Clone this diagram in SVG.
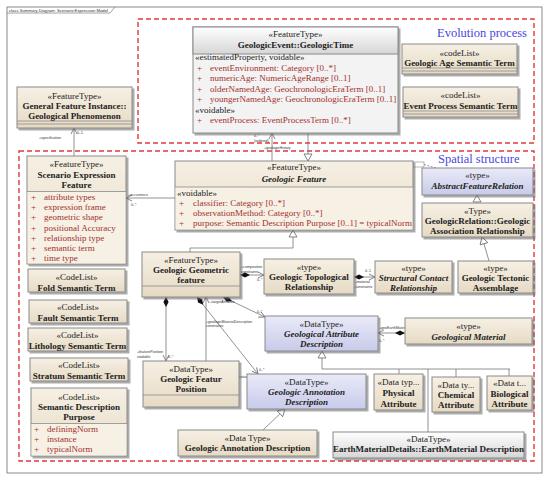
<svg xmlns="http://www.w3.org/2000/svg" width="550" height="484" viewBox="0 0 550 484">
<defs>
<linearGradient id="bg" x1="0" y1="0" x2="0" y2="1"><stop offset="0" stop-color="#f6f0e4"/><stop offset="1" stop-color="#e6dac4"/></linearGradient>
<linearGradient id="lv" x1="0" y1="0" x2="0" y2="1"><stop offset="0" stop-color="#e9eaf8"/><stop offset="1" stop-color="#c8cbea"/></linearGradient>
<linearGradient id="gy" x1="0" y1="0" x2="0" y2="1"><stop offset="0" stop-color="#ffffff"/><stop offset="1" stop-color="#d6d6d6"/></linearGradient>
<filter id="ds" x="-10%" y="-10%" width="130%" height="130%"><feDropShadow dx="2" dy="2" stdDeviation="0.7" flood-color="#666" flood-opacity="0.55"/></filter>
<marker id="arr" markerUnits="userSpaceOnUse" markerWidth="10" markerHeight="10" refX="0" refY="0" orient="auto" overflow="visible"><path d="M-6,-3 L0,0 L-6,3" fill="none" stroke="#666" stroke-width="0.8"/></marker>
<marker id="tri" markerUnits="userSpaceOnUse" markerWidth="10" markerHeight="10" refX="0" refY="0" orient="auto" overflow="visible"><path d="M-7,-4 L0,0 L-7,4 Z" fill="#fff" stroke="#666" stroke-width="0.8"/></marker>
<marker id="dia" markerUnits="userSpaceOnUse" markerWidth="12" markerHeight="12" refX="0" refY="0" orient="auto" overflow="visible"><path d="M0,0 L5,-2.6 L10,0 L5,2.6 Z" fill="#111"/></marker>
</defs>
<style>
.b{fill:url(#bg);stroke:#8a8a8a;stroke-width:1;filter:url(#ds)}
.l{fill:url(#lv);stroke:#8a8a8a;stroke-width:1;filter:url(#ds)}
.g{fill:url(#gy);stroke:#8a8a8a;stroke-width:1;filter:url(#ds)}
.sep{stroke:#8a8a8a;stroke-width:0.8;fill:none}
.cmp{fill:#f6f0e5}
text{font-family:"Liberation Serif",serif}
.s{font-size:9px;text-anchor:middle;fill:#222}
.n{font-size:9px;text-anchor:middle;font-weight:bold;fill:#222}
.ni{font-size:9px;text-anchor:middle;font-weight:bold;font-style:italic;fill:#222}
.a{font-size:9px;fill:#a3302e}
.k{font-size:9px;fill:#222}
.lb{font-family:"Liberation Sans",sans-serif;font-size:3.6px;fill:#333}
.red{fill:none;stroke:#e2393b;stroke-width:1.4;stroke-dasharray:5 3}
.ln{fill:none;stroke:#777;stroke-width:0.8}
.ttl{font-size:12.5px;fill:#4a46e0}
</style>
<g id="frame">
<rect x="7" y="7" width="535" height="466" fill="#fff" stroke="#8a8a8a" stroke-width="1"/>
<path d="M7,13 H110 L115,7" fill="none" stroke="#8a8a8a" stroke-width="0.8"/>
<text x="9" y="11.6" style="font-family:'Liberation Sans',sans-serif;font-size:4.2px;fill:#333">class Summary Diagram: Scenario Expression Model</text>
</g>
<g id="regions">
<rect class="red" x="138" y="19" width="396" height="124"/>
<rect class="red" x="19" y="151" width="515" height="310"/>
<text class="ttl" x="437" y="37">Evolution process</text>
<text class="ttl" x="438" y="163">Spatial structure</text>
</g>
<g id="connectors">
<path class="ln" d="M74,156 V128" marker-end="url(#arr)"/>
<path class="ln" d="M272,161 V133" marker-end="url(#arr)"/>
<path class="ln" d="M308,133 V161" marker-end="url(#tri)"/>
<path class="ln" d="M175,198 H126" marker-end="url(#arr)"/>
<path class="ln" d="M424,164.5 L436,168" stroke-dasharray="2 1.5"/>
<rect x="413" y="162" width="11" height="5" fill="#fff" stroke="#888" stroke-width="0.6"/>
<path class="ln" d="M477,203 V195" marker-end="url(#tri)"/>
<path class="ln" d="M489,261 L482,237" marker-end="url(#tri)"/>
<path class="ln" d="M190,252 V248 H293 V230" marker-end="url(#tri)"/>
<path class="ln" d="M240,275 H264" marker-start="url(#dia)" marker-end="url(#arr)"/>
<path class="ln" d="M354,277 H375" marker-start="url(#dia)" marker-end="url(#arr)"/>
<path class="ln" d="M223,297 L265,317" marker-start="url(#dia)" marker-end="url(#arr)"/>
<path class="ln" d="M166,297 V361" marker-start="url(#dia)" marker-end="url(#arr)"/>
<path class="ln" d="M206,361 V297" marker-end="url(#arr)"/>
<path class="ln" d="M197,297 L258,374" marker-start="url(#dia)" marker-end="url(#arr)"/>
<path class="ln" d="M405,333 H378" marker-start="url(#dia)" marker-end="url(#arr)"/>
<path class="ln" d="M263,430 L285,409" marker-end="url(#tri)"/>
<path class="ln" d="M322,369 V351" marker-end="url(#tri)"/>
<path class="ln" d="M322,369 H510 M399,369 V374 M428,369 V432 M456,369 V377 M509,369 V376"/>
<text class="lb" x="39" y="139">+specification</text>
<text class="lb" x="77" y="134">0..1</text>
<text class="lb" x="254" y="137">0..*</text>
<text class="lb" x="254" y="142">{ordered}</text>
<text class="lb" x="264" y="148.5">+geologicHistory</text>
<text class="lb" x="208" y="164.5">+relatedFeature 0..*</text>
<text class="lb" x="128" y="196">+occurrence</text>
<text class="lb" x="131" y="206">0..*</text>
<text class="lb" x="241" y="268">+composition</text>
<text class="lb" x="241" y="273">constraints</text>
<text class="lb" x="257" y="281">0..*</text>
<text class="lb" x="365" y="272">0..1</text>
<text class="lb" x="355" y="283">+material</text>
<text class="lb" x="355" y="287.5">constraints</text>
<text class="lb" x="210" y="302.5">+targetAttribute</text>
<text class="lb" x="257" y="312.5">0..*</text>
<text class="lb" x="206" y="322.5">+geologicMaterialDescription</text>
<text class="lb" x="206" y="327">constraints</text>
<text class="lb" x="137" y="353">+featurePosition</text>
<text class="lb" x="137" y="357.5">voidable</text>
<text class="lb" x="168" y="358">0..*</text>
<text class="lb" x="221" y="378">+geologicFeatureDescription</text>
<text class="lb" x="221" y="382.5">constraints</text>
<text class="lb" x="259" y="371">0..*</text>
<text class="lb" x="379" y="328.5">+geoEarthMaterialDescription</text>
<text class="lb" x="379" y="342">0..*</text>
</g>
<g id="geologicTime">
<rect x="193" y="27" width="205" height="106" fill="#f3f3f3" stroke="#8a8a8a" filter="url(#ds)"/>
<rect x="193" y="27" width="205" height="27" fill="url(#gy)" stroke="#8a8a8a"/>
<text class="s" x="295.5" y="37">«FeatureType»</text>
<text class="n" x="295.5" y="47.5">GeologicEvent::GeologicTime</text>
<text class="k" x="195" y="60">«estimatedProperty, voidable»</text>
<text class="a" x="197" y="70.5">+</text><text class="a" x="210" y="70.5">eventEnvironment: Category [0..*]</text>
<text class="a" x="197" y="81">+</text><text class="a" x="210" y="81">numericAge: NumericAgeRange [0..1]</text>
<text class="a" x="197" y="91.5">+</text><text class="a" x="210" y="91.5">olderNamedAge: GeochronologicEraTerm [0..1]</text>
<text class="a" x="197" y="102">+</text><text class="a" x="210" y="102">youngerNamedAge: GeochronologicEraTerm [0..1]</text>
<text class="k" x="195" y="112.5">«voidable»</text>
<text class="a" x="197" y="123">+</text><text class="a" x="210" y="123">eventProcess: EventProcessTerm [0..*]</text>
</g>
<g id="geologicAgeSemanticTerm">
<rect class="b" x="402" y="44" width="115" height="30"/>
<path class="sep" d="M402,68 H517 M402,71 H517"/>
<text class="s" x="459.5" y="56">«codeList»</text>
<text class="n" x="459.5" y="66">Geologic Age Semantic Term</text>
</g>
<g id="eventProcessSemanticTerm">
<rect class="b" x="403" y="87" width="115" height="30"/>
<path class="sep" d="M403,111 H518 M403,114 H518"/>
<text class="s" x="460.5" y="98">«codeList»</text>
<text class="n" x="460.5" y="108.5">Event Process Semantic Term</text>
</g>
<g id="geologicalPhenomenon">
<rect class="b" x="17" y="87" width="115" height="41"/>
<path class="sep" d="M17,121 H132 M17,124 H132"/>
<text class="s" x="74.5" y="99">«FeatureType»</text>
<text class="n" x="74.5" y="108.5">General Feature Instance::</text>
<text class="n" x="74.5" y="118.5">Geological Phenomenon</text>
</g>
<g id="scenarioExpressionFeature">
<rect class="b" x="27" y="156" width="99" height="108"/>
<rect class="cmp" x="27.5" y="191.5" width="98" height="72"/>
<path class="sep" d="M27,191.5 H126"/>
<text class="s" x="76.5" y="166.5">«FeatureType»</text>
<text class="n" x="76.5" y="177.5">Scenario Expression</text>
<text class="n" x="76.5" y="187.5">Feature</text>
<text class="a" x="31" y="200">+</text><text class="a" x="44" y="200">attribute types</text>
<text class="a" x="31" y="210">+</text><text class="a" x="44" y="210">expression frame</text>
<text class="a" x="31" y="220">+</text><text class="a" x="44" y="220">geometric shape</text>
<text class="a" x="31" y="230.5">+</text><text class="a" x="44" y="230.5">positional Accuracy</text>
<text class="a" x="31" y="241">+</text><text class="a" x="44" y="241">relationship type</text>
<text class="a" x="31" y="251">+</text><text class="a" x="44" y="251">semantic term</text>
<text class="a" x="31" y="261">+</text><text class="a" x="44" y="261">time type</text>
</g>
<g id="foldSemanticTerm">
<rect class="b" x="28" y="269" width="97" height="23"/>
<text class="s" x="76.5" y="280">«CodeList»</text>
<text class="n" x="76.5" y="290.5">Fold Semantic Term</text>
</g>
<g id="faultSemanticTerm">
<rect class="b" x="29" y="300" width="98" height="23"/>
<text class="s" x="78" y="310">«CodeList»</text>
<text class="n" x="78" y="320.5">Fault Semantic Term</text>
</g>
<g id="lithologySemanticTerm">
<rect class="b" x="28" y="328" width="99" height="23"/>
<text class="s" x="77.5" y="338">«CodeList»</text>
<text class="n" x="77.5" y="348.5">Lithology Semantic Term</text>
</g>
<g id="stratumSemanticTerm">
<rect class="b" x="30" y="358" width="98" height="23"/>
<text class="s" x="79" y="368">«CodeList»</text>
<text class="n" x="79" y="378.5">Stratum Semantic Term</text>
</g>
<g id="semanticDescriptionPurpose">
<rect class="b" x="31" y="388" width="96" height="68"/>
<rect class="cmp" x="31.5" y="423.5" width="95" height="32"/>
<path class="sep" d="M31,423.5 H127"/>
<text class="s" x="79" y="400">«CodeList»</text>
<text class="n" x="79" y="410">Semantic Description</text>
<text class="n" x="79" y="420">Purpose</text>
<text class="a" x="34" y="432">+</text><text class="a" x="47" y="432">definingNorm</text>
<text class="a" x="34" y="442">+</text><text class="a" x="47" y="442">instance</text>
<text class="a" x="34" y="452">+</text><text class="a" x="47" y="452">typicalNorm</text>
</g>
<g id="geologicFeature">
<rect class="b" x="175" y="161" width="238" height="69"/>
<rect class="cmp" x="175.5" y="187" width="237" height="42.5"/>
<path class="sep" d="M175,187 H413"/>
<text class="s" x="294" y="170">«FeatureType»</text>
<text class="ni" x="294" y="181.5">Geologic Feature</text>
<text class="k" x="177" y="196">«voidable»</text>
<text class="a" x="179" y="206">+</text><text class="a" x="193" y="206">classifier: Category [0..*]</text>
<text class="a" x="179" y="216">+</text><text class="a" x="193" y="216">observationMethod: Category [0..*]</text>
<text class="a" x="179" y="226">+</text><text class="a" x="193" y="226">purpose: Semantic Description Purpose [0..1] = typicalNorm</text>
</g>
<g id="abstractFeatureRelation">
<rect class="l" x="422" y="168" width="111" height="27"/>
<text class="s" x="477.5" y="178">«type»</text>
<text class="ni" x="477.5" y="189">AbstractFeatureRelation</text>
</g>
<g id="geologicAssociationRelationship">
<rect class="b" x="422" y="203" width="111" height="34"/>
<text class="s" x="477.5" y="214">«Type»</text>
<text class="n" x="477.5" y="224">GeologicRelation::Geologic</text>
<text class="n" x="477.5" y="234">Association Relationship</text>
</g>
<g id="geologicTectonicAssemblage">
<rect class="b" x="458" y="261" width="75" height="32"/>
<text class="s" x="495.5" y="271">«type»</text>
<text class="n" x="495.5" y="281">Geologic Tectonic</text>
<text class="n" x="495.5" y="291">Assemblage</text>
</g>
<g id="structuralContactRelationship">
<rect class="b" x="375" y="261" width="77" height="32"/>
<text class="s" x="413.5" y="271">«type»</text>
<text class="ni" x="413.5" y="281">Structural Contact</text>
<text class="ni" x="413.5" y="291">Relationship</text>
</g>
<g id="geologicTopologicalRelationship">
<rect class="b" x="264" y="259" width="90" height="35"/>
<text class="s" x="309" y="270">«type»</text>
<text class="n" x="309" y="280">Geologic Topological</text>
<text class="n" x="309" y="290">Relationship</text>
</g>
<g id="geologicGeometricFeature">
<rect class="b" x="142" y="252" width="98" height="45"/>
<path class="sep" d="M142,286 H240"/>
<text class="s" x="191" y="263">«FeatureType»</text>
<text class="n" x="191" y="272.5">Geologic Geometric</text>
<text class="n" x="191" y="283">feature</text>
</g>
<g id="geologicFeaturePosition">
<rect class="b" x="143" y="361" width="96" height="46"/>
<path class="sep" d="M143,395 H239"/>
<text class="s" x="191" y="372">«DataType»</text>
<text class="n" x="191" y="382">Geologic Featur</text>
<text class="n" x="191" y="392">Position</text>
</g>
<g id="geologicalAttributeDescription">
<rect class="l" x="265" y="316" width="113" height="35"/>
<text class="s" x="321.5" y="327">«DataType»</text>
<text class="ni" x="321.5" y="336.5">Geological Attribute</text>
<text class="ni" x="321.5" y="346.5">Description</text>
</g>
<g id="geologicAnnotationDescriptionType">
<rect class="l" x="247" y="374" width="119" height="35"/>
<text class="s" x="306.5" y="385">«DataType»</text>
<text class="ni" x="306.5" y="395">Geologic Annotation</text>
<text class="ni" x="306.5" y="405">Description</text>
</g>
<g id="geologicAnnotationDescription">
<rect class="b" x="178" y="430" width="139" height="26"/>
<text class="s" x="247.5" y="441">«Data Type»</text>
<text class="n" x="247.5" y="451">Geologic Annotation Description</text>
</g>
<g id="geologicalMaterial">
<rect class="b" x="405" y="318" width="127" height="26"/>
<text class="s" x="468.5" y="329">«type»</text>
<text class="ni" x="468.5" y="340">Geological Material</text>
</g>
<g id="physicalAttribute">
<rect class="b" x="374" y="374" width="49" height="36"/>
<text class="s" x="398.5" y="385">«Data typ...</text>
<text class="n" x="398.5" y="396">Physical</text>
<text class="n" x="398.5" y="407">Attribute</text>
</g>
<g id="chemicalAttribute">
<rect class="b" x="432" y="377" width="48" height="35"/>
<text class="s" x="456" y="388">«Data ty...</text>
<text class="n" x="456" y="397.5">Chemical</text>
<text class="n" x="456" y="408">Attribute</text>
</g>
<g id="biologicalAttribute">
<rect class="b" x="487" y="376" width="45" height="34"/>
<text class="s" x="509.5" y="386">«Data t...</text>
<text class="n" x="509.5" y="397">Biological</text>
<text class="n" x="509.5" y="407">Attribute</text>
</g>
<g id="earthMaterialDescription">
<rect class="g" x="333" y="432" width="191" height="26"/>
<text class="s" x="428.5" y="442">«DataType»</text>
<text class="n" x="428.5" y="451.5">EarthMaterialDetails::EarthMaterial Description</text>
</g>
</svg>
